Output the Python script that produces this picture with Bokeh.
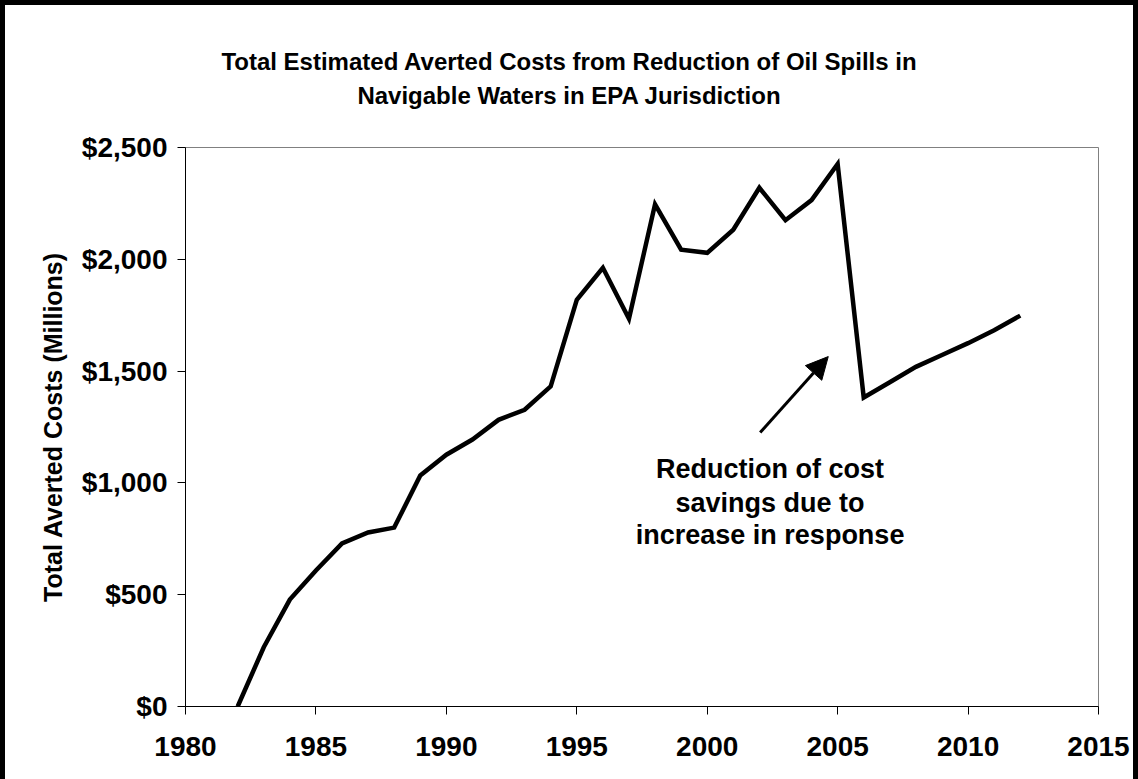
from bokeh.plotting import figure
from bokeh.layouts import column
from bokeh.models import (Range1d, NumeralTickFormatter, FixedTicker, Label,
                          Div, Arrow, NormalHead, ColumnDataSource)
from bokeh.embed import file_html
from bokeh.resources import INLINE

years = list(range(1982, 2013))
averted_costs = [0, 265, 478, 608, 729, 778, 800, 1033, 1126, 1194, 1282, 1327,
                 1432, 1819, 1962, 1734, 2246, 2043, 2029, 2132, 2320, 2175,
                 2265, 2426, 1382, 1450, 1519, 1572, 1625, 1683, 1748]
x_ticks = [1980, 1985, 1990, 1995, 2000, 2005, 2010, 2015]
y_ticks = [0, 500, 1000, 1500, 2000, 2500]
title_lines = ["Total Estimated Averted Costs from Reduction of Oil Spills in",
               "Navigable Waters in EPA Jurisdiction"]
note_lines = ["Reduction of cost", "savings due to", "increase in response"]

FONT = "Liberation Sans"
TITLE_H = 110

title_div = Div(
    text=("<div style=\"width:1128px;text-align:center;font-family:'Liberation Sans';"
          "font-weight:bold;font-size:24px;line-height:34px;padding-top:40px;"
          "color:black\">" + "<br>".join(title_lines) + "</div>"),
    width=1128, height=TITLE_H, margin=0)

p = figure(width=1128, height=774 - TITLE_H, output_backend="svg",
           toolbar_location=None,
           x_range=Range1d(1980, 2015), y_range=Range1d(0, 2500),
           min_border_left=180, min_border_right=35, min_border_top=32,
           min_border_bottom=73)
p.title.visible = False
p.background_fill_color = "white"
p.border_fill_color = "white"
p.grid.visible = False
p.outline_line_color = "#808080"
p.outline_line_width = 1

src = ColumnDataSource(dict(x=years, y=averted_costs))
p.line("x", "y", source=src, line_color="black", line_width=4.5,
       line_join="miter")

for ax in (p.xaxis[0], p.yaxis[0]):
    ax.axis_line_color = "black"
    ax.axis_line_width = 1
    ax.major_tick_line_color = "black"
    ax.major_tick_out = 8
    ax.major_tick_in = 0
    ax.minor_tick_out = 0
    ax.minor_tick_in = 0
    ax.major_label_text_font = FONT
    ax.major_label_text_font_style = "bold"
    ax.major_label_text_font_size = "28px"
    ax.major_label_text_color = "black"

p.xaxis.ticker = FixedTicker(ticks=x_ticks)
p.yaxis.ticker = FixedTicker(ticks=y_ticks)
p.yaxis.formatter = NumeralTickFormatter(format="$0,0")
p.xaxis.major_label_standoff = 22
p.yaxis.major_label_standoff = 10

p.yaxis.axis_label = "Total Averted Costs (Millions)"
p.yaxis.axis_label_text_font = FONT
p.yaxis.axis_label_text_font_style = "bold"
p.yaxis.axis_label_text_font_size = "25px"
p.yaxis.axis_label_text_color = "black"
p.yaxis.axis_label_standoff = 12

# annotation text
for txt, yv in zip(note_lines, [1064, 912, 765]):
    p.add_layout(Label(x=2002.41, y=yv, text=txt, text_align="center",
                       text_baseline="middle", text_font=FONT,
                       text_font_style="bold", text_font_size="27px",
                       text_color="black"))

p.add_layout(Arrow(end=NormalHead(size=22, fill_color="black",
                                  line_color="black"),
                   x_start=2002.03, y_start=1225, x_end=2004.64, y_end=1565,
                   line_color="black", line_width=3))

layout = column(title_div, p, spacing=0,
                styles={"border-top": "5px solid black",
                        "border-left": "5px solid black",
                        "border-right": "5px solid black",
                        "background-color": "white"})

open("out.html", "w").write(file_html(layout, INLINE))
